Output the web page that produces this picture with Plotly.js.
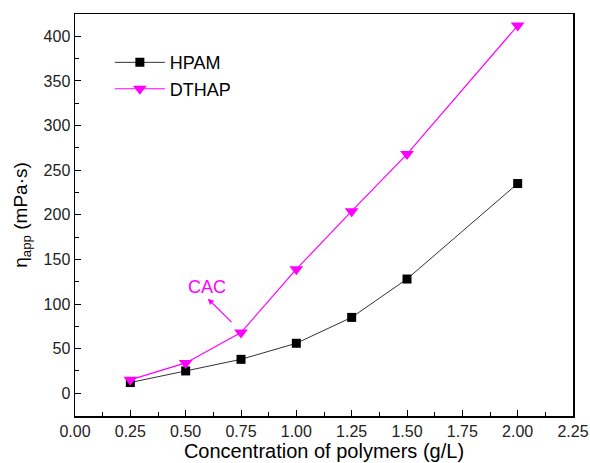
<!DOCTYPE html>
<html><head><meta charset="utf-8">
<script src="https://cdn.plot.ly/plotly-3.0.1.min.js"></script>
<style>html,body{margin:0;padding:0;background:#fff}#c{width:590px;height:463px}</style>
</head><body><div id="c"></div>
<script>
const conc = [0.25, 0.5, 0.75, 1.0, 1.25, 1.5, 2.0];
const hpam = [12, 25, 38, 56, 85, 128, 235];
const dthap = [15, 34, 68, 139, 204, 268, 412];
const xTicks = [0, 0.25, 0.5, 0.75, 1.0, 1.25, 1.5, 1.75, 2.0, 2.25];
const xTickLabels = ['0.00','0.25','0.50','0.75','1.00','1.25','1.50','1.75','2.00','2.25'];
const yTicks = [0, 50, 100, 150, 200, 250, 300, 350, 400];

const font = 'Arial, "Liberation Sans", sans-serif';
const traces = [
  {x: conc, y: hpam, name: 'HPAM', mode: 'lines+markers', type: 'scatter',
   line: {color: '#333', width: 1}, marker: {symbol: 'square', size: 9, color: '#000'}},
  {x: conc, y: dthap, name: 'DTHAP', mode: 'lines+markers', type: 'scatter',
   line: {color: '#ff00ff', width: 1.2}, marker: {symbol: 'triangle-down', size: 12, color: '#ff00ff'}}
];
const axisCommon = {showline: true, linecolor: '#000', linewidth: 1.5, mirror: true,
  ticks: 'inside', ticklen: 6, tickcolor: '#000', showgrid: false, zeroline: false,
  tickfont: {family: font, size: 16, color: '#222'}};
const layout = {
  width: 590, height: 463,
  margin: {l: 75, r: 17, t: 14, b: 47},
  paper_bgcolor: '#fff', plot_bgcolor: '#fff',
  font: {family: font},
  showlegend: true,
  legend: {x: 0.07, y: 0.925, xanchor: 'left', yanchor: 'top', bgcolor: 'rgba(0,0,0,0)',
    font: {family: font, size: 18, color: '#000'}, tracegroupgap: 0, itemwidth: 50},
  xaxis: Object.assign({}, axisCommon, {range: [0, 2.25], tickvals: xTicks, ticktext: xTickLabels,
    minor: {ticks: 'inside', ticklen: 4, tickcolor: '#000', dtick: 0.125, tick0: 0},
    title: {text: 'Concentration of polymers (g/L)', font: {family: font, size: 20, color: '#000'}, standoff: 1}}),
  yaxis: Object.assign({}, axisCommon, {range: [-25.5, 425], tickvals: yTicks,
    minor: {ticks: 'inside', ticklen: 4, tickcolor: '#000', dtick: 25, tick0: 0},
    title: {text: 'η<sub>app</sub> (mPa·s)', font: {family: font, size: 19, color: '#000'}, standoff: 11}}),
  annotations: [
    {x: 0.596, y: 119, xref: 'x', yref: 'y', text: 'CAC', showarrow: false,
     font: {family: font, size: 18, color: '#ff00ff'}},
    {x: 0.6, y: 106, ax: 0.714, ay: 78, xref: 'x', yref: 'y', axref: 'x', ayref: 'y',
     text: '', showarrow: true, arrowhead: 2, arrowsize: 1, arrowwidth: 1.2, arrowcolor: '#ff00ff'}
  ]
};
Plotly.newPlot('c', traces, layout, {staticPlot: true});
</script>
</body></html>
